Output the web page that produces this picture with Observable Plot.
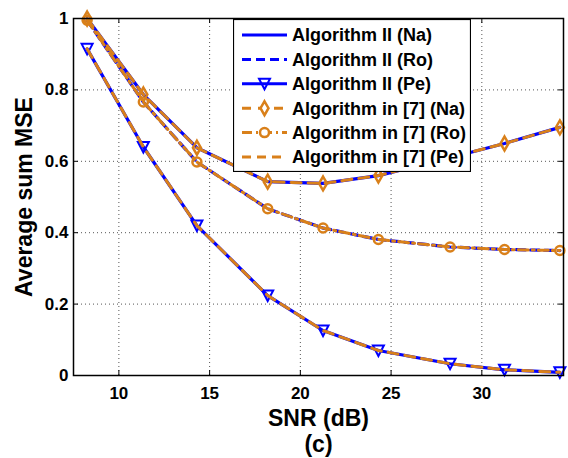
<!DOCTYPE html>
<html><head><meta charset="utf-8">
<script src="https://cdn.jsdelivr.net/npm/d3@7"></script>
<script src="https://cdn.jsdelivr.net/npm/@observablehq/plot@0.6"></script>
<style>
body{margin:0;background:#fff}
#wrap{position:relative;width:568px;height:458px;font-family:"Liberation Sans",Arial,sans-serif}
#wrap svg{display:block}
#legend{position:absolute;left:233px;top:19px}
</style>
</head><body><div id="wrap"></div>
<script>
// ---- data ----
const snr = [8.25, 11.35, 14.3, 18.2, 21.25, 24.3, 28.25, 31.25, 34.3];
const algIINa = [1.0, 0.787, 0.638, 0.543, 0.538, 0.56, 0.61, 0.65, 0.695];
const algIIRo = [0.995, 0.766, 0.598, 0.467, 0.413, 0.381, 0.36, 0.353, 0.35];
const algIIPe = [0.915, 0.64, 0.42, 0.224, 0.126, 0.07, 0.033, 0.016, 0.009];
const alg7Na = [1.0, 0.787, 0.638, 0.543, 0.538, 0.56, 0.61, 0.65, 0.695];
const alg7Ro = [0.995, 0.766, 0.598, 0.467, 0.413, 0.381, 0.36, 0.353, 0.35];
const alg7Pe = [0.915, 0.64, 0.42, 0.224, 0.126, 0.07, 0.033, 0.016, 0.009];
const xTicks = [10, 15, 20, 25, 30];
const yTicks = [0, 0.2, 0.4, 0.6, 0.8, 1];
const seriesNames = ["Algorithm II (Na)", "Algorithm II (Ro)", "Algorithm II (Pe)",
  "Algorithm in [7] (Na)", "Algorithm in [7] (Ro)", "Algorithm in [7] (Pe)"];
const xLabel = "SNR (dB)";
const yLabel = "Average sum MSE";
const caption = "(c)";

// ---- styles ----
const BLUE = "#0000ff";
const ORANGE = "#d9801a";
const FONT = "'Liberation Sans', Arial, sans-serif";
const rows = ys => snr.map((x, i) => ({snr: x, mse: ys[i]}));
const triDown = {draw(ctx) { ctx.moveTo(-5.5, -5); ctx.lineTo(5.5, -5); ctx.lineTo(0, 5.5); ctx.closePath(); }};

const xDomain = [7.5, 34.5];
const chart = Plot.plot({
  width: 568, height: 458,
  marginTop: 18, marginBottom: 83, marginLeft: 73, marginRight: 5,
  style: {fontFamily: FONT, fontWeight: "bold", fontSize: "17px", background: "white"},
  x: {domain: xDomain},
  y: {domain: [0, 1]},
  marks: [
    Plot.gridX(xTicks, {stroke: "#555", strokeOpacity: 1, strokeDasharray: "1,3"}),
    Plot.gridY(yTicks, {stroke: "#555", strokeOpacity: 1, strokeDasharray: "1,3"}),
    Plot.ruleX(xTicks, {y1: 0, y2: 0.014, stroke: "black"}),
    Plot.ruleX(xTicks, {y1: 0.986, y2: 1, stroke: "black"}),
    Plot.ruleY(yTicks, {x1: xDomain[0], x2: xDomain[0] + 0.27, stroke: "black"}),
    Plot.ruleY(yTicks, {x1: xDomain[1] - 0.27, x2: xDomain[1], stroke: "black"}),
    Plot.axisX(xTicks, {anchor: "bottom", tickSize: 0, tickPadding: 11, fontSize: 17, fontWeight: "bold", label: null, tickFormat: d => String(d)}),
    Plot.axisY(yTicks, {anchor: "left", tickSize: 0, tickPadding: 5, fontSize: 17, fontWeight: "bold", label: null, tickFormat: d => String(d)}),
    Plot.line(rows(algIINa), {x: "snr", y: "mse", stroke: BLUE, strokeWidth: 3.2}),
    Plot.line(rows(algIIRo), {x: "snr", y: "mse", stroke: BLUE, strokeWidth: 3.2, strokeDasharray: "9,5"}),
    Plot.line(rows(algIIPe), {x: "snr", y: "mse", stroke: BLUE, strokeWidth: 3.2}),
    Plot.dot(rows(algIIPe), {x: "snr", y: "mse", symbol: triDown, stroke: BLUE, strokeWidth: 2, fill: "none"}),
    Plot.line(rows(alg7Na), {x: "snr", y: "mse", stroke: ORANGE, strokeWidth: 3, strokeDasharray: "10,7"}),
    Plot.dot(rows(alg7Na), {x: "snr", y: "mse", symbol: "diamond", r: 4.2, stroke: ORANGE, strokeWidth: 2.5, fill: "none"}),
    Plot.line(rows(alg7Ro), {x: "snr", y: "mse", stroke: ORANGE, strokeWidth: 3, strokeDasharray: "10,4,2,4"}),
    Plot.dot(rows(alg7Ro), {x: "snr", y: "mse", symbol: "circle", r: 4.5, stroke: ORANGE, strokeWidth: 2.5, fill: "none"}),
    Plot.line(rows(alg7Pe), {x: "snr", y: "mse", stroke: ORANGE, strokeWidth: 3, strokeDasharray: "10,7"}),
    Plot.frame({stroke: "black", strokeWidth: 1.5}),
    Plot.text([yLabel], {frameAnchor: "left", dx: -49, rotate: -90, textAnchor: "middle", lineAnchor: "middle", fontSize: 23, fontWeight: "bold", fill: "black"}),
    Plot.text([xLabel], {frameAnchor: "bottom", dy: 43, textAnchor: "middle", lineAnchor: "middle", fontSize: 23, fontWeight: "bold", fill: "black"}),
    Plot.text([caption], {frameAnchor: "bottom", dy: 69, textAnchor: "middle", lineAnchor: "middle", fontSize: 23, fontWeight: "bold", fill: "black"})
  ]
});
const wrap = document.getElementById("wrap");
wrap.appendChild(chart);

// ---- legend ----
const legendStyles = [
  {color: BLUE, dash: null, marker: null},
  {color: BLUE, dash: "9,5", marker: null},
  {color: BLUE, dash: null, marker: "tri"},
  {color: ORANGE, dash: "9,7", marker: "diamond"},
  {color: ORANGE, dash: "10,4,2,4", marker: "circle"},
  {color: ORANGE, dash: "9,6", marker: null}
];
const LW = 238, LH = 153;
const leg = d3.create("svg").attr("id", "legend").attr("width", LW).attr("height", LH);
leg.append("rect").attr("x", 0.5).attr("y", 0.5).attr("width", LW - 1).attr("height", LH - 1)
  .attr("fill", "white").attr("stroke", "black").attr("stroke-width", 1.2);
seriesNames.forEach((name, i) => {
  const s = legendStyles[i];
  const y = 16 + i * 24.4;
  leg.append("line").attr("x1", 9).attr("x2", 54).attr("y1", y).attr("y2", y)
    .attr("stroke", s.color).attr("stroke-width", 3).attr("stroke-dasharray", s.dash);
  if (s.marker === "tri") {
    leg.append("path").attr("d", "M-5.5,-5L5.5,-5L0,5.5Z").attr("transform", `translate(31.5,${y})`)
      .attr("fill", "none").attr("stroke", s.color).attr("stroke-width", 2);
  } else if (s.marker === "diamond") {
    leg.append("path").attr("d", d3.symbol(d3.symbolDiamond, 4.2 * 4.2 * Math.PI)())
      .attr("transform", `translate(31.5,${y})`).attr("fill", "white").attr("stroke", s.color).attr("stroke-width", 2.5);
  } else if (s.marker === "circle") {
    leg.append("circle").attr("cx", 31.5).attr("cy", y).attr("r", 4.5)
      .attr("fill", "white").attr("stroke", s.color).attr("stroke-width", 2.5);
  }
  leg.append("text").attr("x", 59).attr("y", y).attr("dy", "0.36em")
    .attr("font-family", FONT).attr("font-weight", "bold").attr("font-size", 18)
    .attr("fill", "black").text(name);
});
wrap.appendChild(leg.node());
</script>
</body></html>
